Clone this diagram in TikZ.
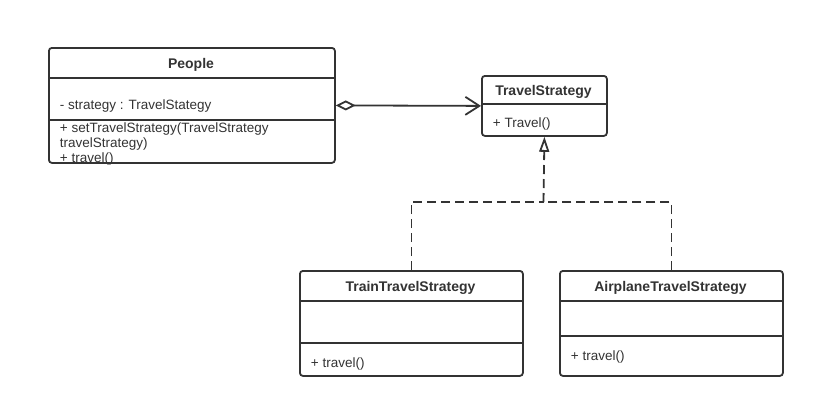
\documentclass[tikz,border=0pt]{standalone}
\usepackage{fontspec}
\setmainfont{Liberation Sans}
\usetikzlibrary{arrows.meta}
\begin{document}
\begin{tikzpicture}[x=1pt,y=-1pt,line width=1.8pt,black!80,
  cls/.style={draw,rounded corners=3pt,anchor=north west,inner sep=0pt},
  txt/.style={anchor=west,inner sep=0pt,font=\fontsize{13.5}{15}\selectfont},
  hd/.style={inner sep=0pt,font=\fontsize{14}{16}\selectfont\bfseries}]
  \useasboundingbox (0,0) rectangle (814,407);
  \node[cls,minimum width=286pt,minimum height=115pt] (people) at (48,47) {};
  \draw (48,78) -- (334,78);
  \draw (48,120) -- (334,120);
  \node[hd] (peoplename) at (191,64.5) {People};
  \node[txt] (peopleattr) at (59,106) {- strategy : TravelStategy};
  \node[txt] (peopleop1) at (59,129.5) {+ setTravelStrategy(TravelStrategy};
  \node[txt] (peopleop2) at (59,144.5) {travelStrategy)};
  \node[txt] (peopleop3) at (59,159) {+ travel()};
  \node[cls,minimum width=125pt,minimum height=60pt] (strategy) at (481,75) {};
  \draw (481,104) -- (606,104);
  \node[hd] (strategyname) at (543.5,91.5) {TravelStrategy};
  \node[txt] (strategyop) at (492,124.5) {+ Travel()};
  \foreach \n/\t/\x/\m in {train/TrainTravelStrategy/299/343,plane/AirplaneTravelStrategy/559/336}{
    \node[cls,minimum width=223pt,minimum height=105pt] (\n) at (\x,270) {};
    \draw (\x,301) -- +(223,0);
    \draw (\x,\m) -- +(223,0);
    \node[hd] (\n name) at (\x+111.5,287.5) {\t};
    \node[txt] (\n op) at (\x+11,\m+21) {+ travel()};
  }
  \draw[{Diamond[open,length=20pt,width=10pt]}-{Straight Barb[length=14pt,width=18pt]}] (people.east) -- (strategy.west);
  \coordinate (join) at (543.5,202);
  \draw[dash pattern=on 9pt off 5pt] (train.north) |- (join);
  \draw[dash pattern=on 9pt off 5pt] (plane.north) |- (join);
  \draw[dash pattern=on 9pt off 5pt,-{Triangle[open,length=15pt,width=10pt]}] (join) -- (strategy.south);
\end{tikzpicture}
\end{document}
